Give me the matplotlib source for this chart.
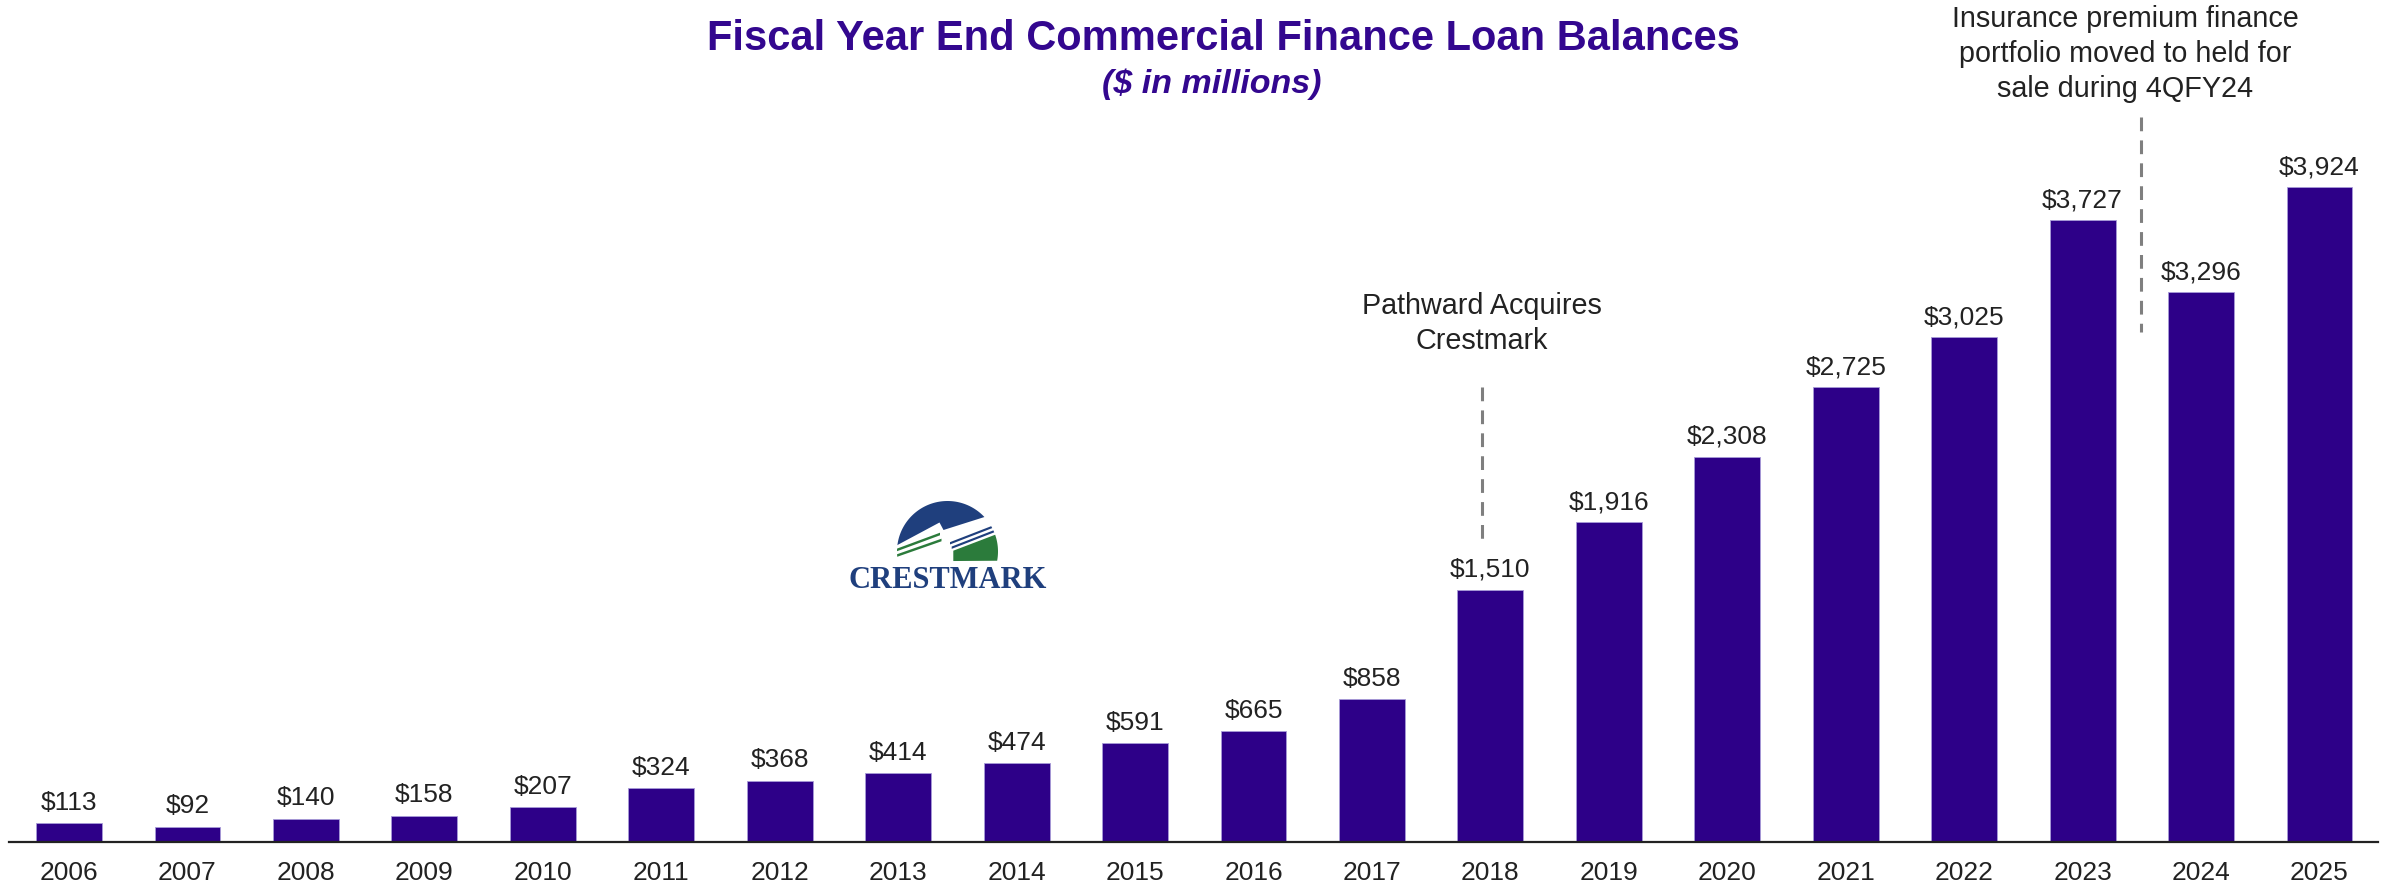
import matplotlib
matplotlib.use("Agg")
import matplotlib.pyplot as plt
from matplotlib.patches import Polygon
import numpy as np

# Fiscal year end commercial finance loan balances ($ millions)
years = ["2006", "2007", "2008", "2009", "2010", "2011", "2012", "2013", "2014", "2015",
         "2016", "2017", "2018", "2019", "2020", "2021", "2022", "2023", "2024", "2025"]
balances = [113, 92, 140, 158, 207, 324, 368, 414, 474, 591,
            665, 858, 1510, 1916, 2308, 2725, 3025, 3727, 3296, 3924]

# Callouts: text lines, x position (bar index units), first-baseline y (data units),
# dashed leader from y_top to y_bottom
acq_lines = ["Pathward Acquires", "Crestmark"]
acq_x, acq_text_y, acq_line_x, acq_line_y = 11.93, 3165, 11.93, (2728, 1793)
ins_lines = ["Insurance premium finance", "portfolio moved to held for", "sale during 4QFY24"]
ins_x, ins_text_y, ins_line_x, ins_line_y = 17.36, 4886, 17.49, (4347, 3058)

BAR = "#2d0088"
TITLE = "#33078f"
INK = "#222222"
NAVY = "#1f3f7d"
GREEN = "#2b7b3b"

W, H = 2389, 889
fig = plt.figure(figsize=(W / 100, H / 100), dpi=100)
ax = fig.add_axes([9 / W, 47 / H, 2369 / W, 842 / H])

x = np.arange(len(years))
ax.bar(x, balances, width=0.557, color=BAR, edgecolor="#a89bd8", linewidth=0.6, zorder=2)
ax.set_xlim(-0.507, 19.494)
ax.set_ylim(0, 5048)

for s in ("top", "left", "right"):
    ax.spines[s].set_visible(False)
ax.spines["bottom"].set_color(INK)
ax.spines["bottom"].set_linewidth(1.6)
ax.set_xticks([])
ax.set_yticks([])

label_font = dict(family=["Liberation Sans", "DejaVu Sans"], fontweight="normal", color=INK)

for i, (yr, v) in enumerate(zip(years, balances)):
    ax.annotate(f"${v:,}", xy=(i, v), xytext=(0, 9.5), textcoords="offset points",
                ha="center", va="baseline", fontsize=19, **label_font)
    ax.annotate(yr, xy=(i, 0), xytext=(0, -27.4), textcoords="offset points",
                ha="center", va="baseline", fontsize=19, annotation_clip=False, **label_font)

# Callout text and dashed leaders
line_gap_pts = 25.2
for lines, tx, ty in ((acq_lines, acq_x, acq_text_y), (ins_lines, ins_x, ins_text_y)):
    for k, line in enumerate(lines):
        ax.annotate(line, xy=(tx, ty), xytext=(0, -k * line_gap_pts), textcoords="offset points",
                    ha="center", va="baseline", fontsize=20.7, annotation_clip=False, **label_font)

for lx, (y0, y1) in ((acq_line_x, acq_line_y), (ins_line_x, ins_line_y)):
    ax.plot([lx, lx], [y0, y1], color="#7f7f7f", linewidth=2.2, linestyle=(0, (4.5, 3.0)),
            solid_capstyle="butt", zorder=3)

# Titles
fig.text(1223 / W, 1 - 50 / H, "Fiscal Year End Commercial Finance Loan Balances",
         ha="center", va="baseline", fontsize=30, fontweight="bold", color=TITLE,
         family=["Liberation Sans", "DejaVu Sans"])
fig.text(1212 / W, 1 - 93 / H, "($ in millions)",
         ha="center", va="baseline", fontsize=24.5, fontweight="bold", fontstyle="italic",
         color=TITLE, family=["Liberation Sans", "DejaVu Sans"])

# Crestmark logo drawn in figure pixel space
lax = fig.add_axes([0, 0, 1, 1], facecolor="none")
lax.set_xlim(0, W)
lax.set_ylim(H, 0)
lax.axis("off")

cx, cy, R, base = 947.5, 551.5, 50.5, 562
theta = np.linspace(0, 2 * np.pi, 240)
circle = np.column_stack([cx + R * np.cos(theta), cy + R * np.sin(theta)])
disc = circle[circle[:, 1] <= base]
disc = disc[np.argsort(np.arctan2(disc[:, 1] - cy, disc[:, 0] - cx))]
clip = Polygon(disc, closed=True, transform=lax.transData, facecolor="none", edgecolor="none")
lax.add_patch(clip)


def logo_shape(pts, color):
    p = Polygon(pts, closed=True, facecolor=color, edgecolor="none", zorder=5)
    lax.add_patch(p)
    p.set_clip_path(clip)


def stripe(p0, p1, thick, color):
    (x0, y0), (x1, y1) = p0, p1
    logo_shape([(x0, y0 - thick / 2), (x1, y1 - thick / 2),
                (x1, y1 + thick / 2), (x0, y0 + thick / 2)], color)


logo_shape(disc, "white")
logo_shape([(890, 549), (939.5, 522.5), (943.5, 530), (1005, 510.5), (1005, 495), (890, 495)], NAVY)
stripe((890, 552.5), (940, 534.0), 2.6, GREEN)
stripe((890, 558.0), (941.5, 540.0), 2.6, GREEN)
stripe((950, 543.3), (1005, 522.0), 2.3, NAVY)
stripe((951.7, 547.7), (1005, 527.0), 2.3, NAVY)
logo_shape([(953.3, 550.7), (1005, 531), (1005, 570), (953.3, 570)], GREEN)

lax.text(948, 588, "CRESTMARK", ha="center", va="baseline", fontsize=22, fontweight="bold",
         color=NAVY, family=["Liberation Serif", "DejaVu Serif"])

fig.savefig("out.png", dpi=100)
